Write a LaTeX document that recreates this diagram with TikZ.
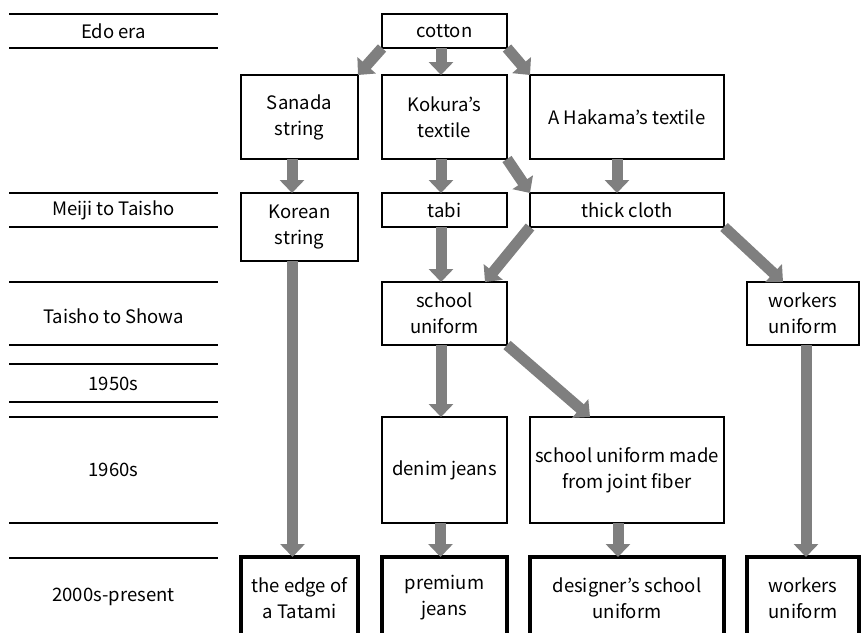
\documentclass[tikz,border=0pt]{standalone}
\usepackage{fontspec}
\setmainfont{Noto Sans CJK JP}
\usetikzlibrary{arrows.meta}

\definecolor{arrowgray}{HTML}{7F7F7F}

\tikzset{
  box/.style={draw, line width=1.8pt, fill=white, align=center, inner sep=0pt,
    outer sep=0pt, font=\fontsize{18.5}{26}\selectfont},
  lastbox/.style={box, line width=3.5pt, minimum height=82pt},
  era/.style={inner sep=0pt, font=\fontsize{18.5}{26}\selectfont},
  eraline/.style={line width=2pt},
  flow/.style={draw=arrowgray, line width=11pt, -{Triangle[width=24pt,length=13pt]}},
}

\begin{document}
\begin{tikzpicture}[x=1pt,y=-1pt]
\useasboundingbox (0,0) rectangle (861,632);
\clip (0,0) rectangle (861,632);

%% era column
\foreach \y in {14,48,193,227,282,345,364,402,417,523,558}
  \draw[eraline] (9,\y) -- (218,\y);

\node[era] (edo)    at (113.5,31)  {Edo era};
\node[era] (meiji)  at (113.5,210) {Meiji to Taisho};
\node[era] (taisho) at (113.5,316) {Taisho to Showa};
\node[era] (fifty)  at (113.5,384) {1950s};
\node[era] (sixty)  at (113.5,470) {1960s};
\node[era] (now)    at (113.5,597) {2000s-present};

%% boxes
\node[box, minimum width=125pt, minimum height=34pt]  (cotton)   at (444.5,31)  {cotton};
\node[box, minimum width=117pt, minimum height=84pt]  (sanada)   at (299.5,117) {Sanada\\string};
\node[box, minimum width=125pt, minimum height=84pt]  (kokura)   at (444.5,117) {Kokura's\\textile};
\node[box, minimum width=194pt, minimum height=84pt]  (hakama)   at (627,117)   {A Hakama's textile};
\node[box, minimum width=117pt, minimum height=68pt]  (korean)   at (299.5,227) {Korean\\string};
\node[box, minimum width=125pt, minimum height=34pt]  (tabi)     at (444.5,210) {tabi};
\node[box, minimum width=194pt, minimum height=34pt]  (thick)    at (627,210)   {thick cloth};
\node[box, minimum width=125pt, minimum height=63pt]  (school)   at (444.5,313.5) {school\\uniform};
\node[box, minimum width=112pt, minimum height=63pt]  (workers)  at (803,313.5) {workers\\uniform};
\node[box, minimum width=125pt, minimum height=106pt] (denim)    at (444.5,470) {denim jeans};
\node[box, minimum width=194pt, minimum height=106pt] (joint)    at (627,470)   {school uniform made\\from joint fiber};

%% present day (cut off at the bottom)
\node[lastbox, minimum width=117pt] (tatami)   at (299.5,598) {the edge of\\a Tatami};
\node[lastbox, minimum width=125pt] (premium)  at (444.5,598) {premium\\jeans};
\node[lastbox, minimum width=194pt] (designer) at (627,598)   {designer's school\\uniform};
\node[lastbox, minimum width=112pt] (workersb) at (803,598)   {workers\\uniform};

%% arrows
\draw[flow] (cotton.south west) -- (sanada.north east);
\draw[flow] ([xshift=-3.5pt]cotton.south) -- ([xshift=-3.5pt]kokura.north);
\draw[flow] (cotton.south east) -- (hakama.north west);
\draw[flow] ([xshift=-7.5pt]sanada.south) -- ([xshift=-7.5pt]korean.north);
\draw[flow] ([xshift=-3.5pt]kokura.south) -- ([xshift=-3.5pt]tabi.north);
\draw[flow] (kokura.south east) -- (thick.north west);
\draw[flow] ([xshift=-10pt]hakama.south) -- ([xshift=-10pt]thick.north);
\draw[flow] ([xshift=-3.5pt]tabi.south) -- ([xshift=-3.5pt]school.north);
\draw[flow] (thick.south west) -- ([xshift=-22pt]school.north east);
\draw[flow] (thick.south east) -- ([xshift=36pt]workers.north west);
\draw[flow] ([xshift=-3.5pt]school.south) -- ([xshift=-3.5pt]denim.north);
\draw[flow] (school.south east) -- ([xshift=60pt]joint.north west);
\draw[flow] ([xshift=-7pt]korean.south) -- ([xshift=-7pt]tatami.north);
\draw[flow] ([xshift=3pt]workers.south) -- ([xshift=3pt]workersb.north);
\draw[flow] ([xshift=-4pt]denim.south) -- ([xshift=-4pt]premium.north);
\draw[flow] ([xshift=-9pt]joint.south) -- ([xshift=-9pt]designer.north);
\end{tikzpicture}
\end{document}
